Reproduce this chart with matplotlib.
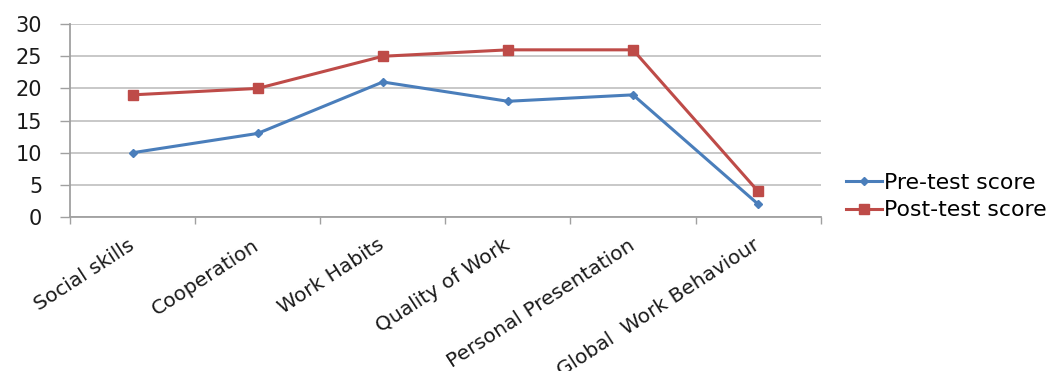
import matplotlib
matplotlib.use("Agg")
import matplotlib.pyplot as plt
import numpy as np

categories = ["Social skills", "Cooperation", "Work Habits", "Quality of Work",
              "Personal Presentation", "Global  Work Behaviour"]
pre_test = [10, 13, 21, 18, 19, 2]
post_test = [19, 20, 25, 26, 26, 4]
y_ticks = [0, 5, 10, 15, 20, 25, 30]

plt.rcParams['font.family'] = ['DejaVu Sans']

fig = plt.figure(figsize=(10.64, 3.71), dpi=100)
ax = fig.add_axes([0.0658, 0.415, 0.7055, 0.52])

x = np.arange(len(categories))
ax.plot(x, pre_test, color="#4A7EBB", lw=2.2, marker="D", ms=4.5,
        label="Pre-test score")
ax.plot(x, post_test, color="#BE4B48", lw=2.2, marker="s", ms=7,
        label="Post-test score")

ax.set_xlim(-0.5, len(categories) - 0.5)
ax.set_ylim(0, 30)
ax.set_yticks(y_ticks)
ax.yaxis.grid(True, color="#C4C4C4", lw=1.3)
ax.set_axisbelow(True)

ax.set_xticks(x)
ax.set_xticklabels(categories, rotation=33, ha="right", va="center",
                   rotation_mode="anchor", fontsize=14.5, color="#1a1a1a")
ax.tick_params(axis="x", length=0, pad=19)
ax.set_xticks(np.arange(len(categories) + 1) - 0.5, minor=True)
ax.tick_params(axis="x", which="minor", length=5, color="#A0A0A0", width=1)
ax.tick_params(axis="y", length=7, color="#A0A0A0", width=1, labelsize=15,
               pad=13, labelcolor="#1a1a1a")

for s in ["top", "right"]:
    ax.spines[s].set_visible(False)
for s in ["left", "bottom"]:
    ax.spines[s].set_color("#A0A0A0")
    ax.spines[s].set_linewidth(1.3)

ax.legend(loc="center left", bbox_to_anchor=(1.022, 0.105), frameon=False,
          fontsize=15.8, handlelength=1.65, handletextpad=0.1, labelspacing=0.33,
          borderaxespad=0)

fig.savefig("out.png", dpi=100)
